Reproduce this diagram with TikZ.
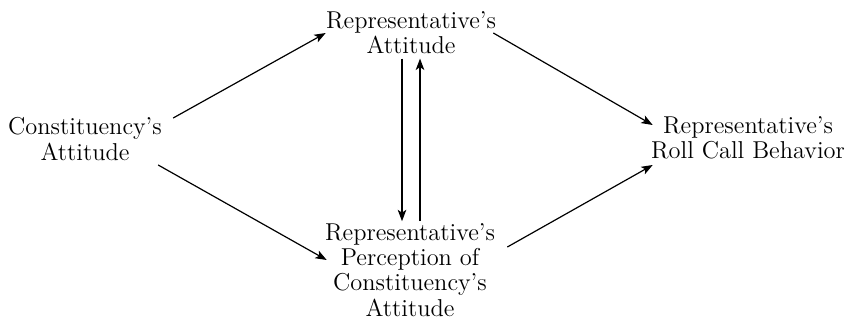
\documentclass[tikz,border=0pt]{standalone}
\usepackage{tikz}
\usetikzlibrary{positioning,arrows.meta}

\begin{document}
\begin{tikzpicture}[x=0.5pt, y=-0.5pt,
    factor/.style={align=center, inner sep=0pt,
                   font=\fontsize{12.2}{12.6}\selectfont},
    arrow/.style={-{Stealth[length=2mm, width=1.5mm, inset=0.5mm]}, semithick}
]
    \useasboundingbox (0,0) rectangle (854,321);
    \node[factor] (cons) at (85,139) {Constituency's\\Attitude};
    \node[factor] (repatt) at (411,33) {Representative's\\Attitude};
    \node[factor] (perc) at (410,270) {Representative's\\Perception of\\Constituency's\\Attitude};
    \node[factor] (roll) at (748,138) {Representative's\\Roll Call Behavior};
    \draw[arrow] ([xshift=5.5pt, yshift=10.5pt]cons.east) -- (repatt.west);
    \draw[arrow] ([xshift=-2pt, yshift=-13pt]cons.east) -- ([xshift=1pt, yshift=5pt]perc.west);
    \draw[arrow] ([xshift=-1.5pt]repatt.east) -- ([xshift=1pt, yshift=6.5pt]roll.west);
    \draw[arrow] ([xshift=6pt, yshift=11.5pt]perc.east) -- ([xshift=1pt, yshift=-13.5pt]roll.west);
    \draw[arrow] ([xshift=-4.5pt, yshift=-2pt]repatt.south) -- ([xshift=-4pt, yshift=1pt]perc.north);
    \draw[arrow] ([xshift=5pt, yshift=1pt]perc.north) -- ([xshift=4.5pt, yshift=-2pt]repatt.south);
\end{tikzpicture}
\end{document}
